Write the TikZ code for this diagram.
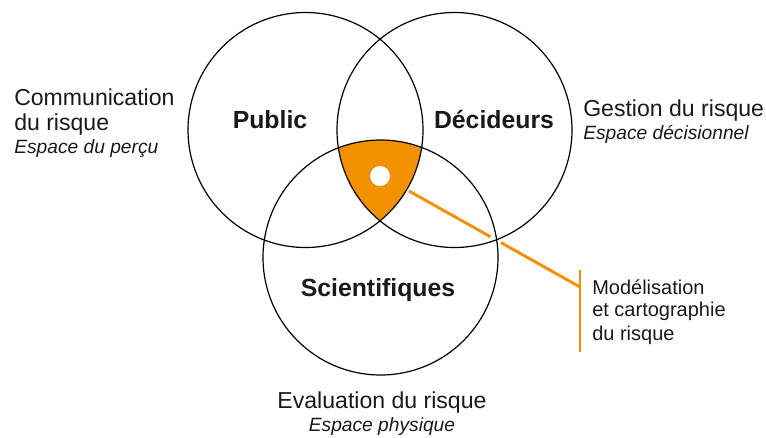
\documentclass[tikz,border=0pt]{standalone}
\usepackage{fontspec}
\setmainfont{Liberation Sans}
\definecolor{accent}{RGB}{242,145,0}
\begin{document}
\begin{tikzpicture}[x=0.75pt,y=-0.75pt,
  ring/.style={draw=black,line width=0.9pt},
  txt/.style={inner sep=0pt,text=black!90},
  big/.style={txt,font=\bfseries\fontsize{18.6}{22}\selectfont,anchor=base},
  lab/.style={txt,font=\fontsize{17.3}{20}\selectfont},
  sub/.style={txt,font=\itshape\fontsize{14.4}{17}\selectfont},
  note/.style={txt,font=\fontsize{15}{18}\selectfont,anchor=base west},
  lead/.style={draw=accent,line width=2.2pt}]
\useasboundingbox (0,0) rectangle (766,437);
\coordinate (cP) at (305.5,130);
\coordinate (cD) at (454.5,130);
\coordinate (cS) at (380.5,257.5);
\begin{scope}
  \clip (cP) circle[radius=88.125pt];
  \clip (cD) circle[radius=88.125pt];
  \fill[accent] (cS) circle[radius=88.125pt];
\end{scope}
\draw[ring] (cP) circle[radius=88.125pt];
\draw[ring] (cD) circle[radius=88.125pt];
\draw[ring] (cS) circle[radius=88.125pt];
\node[circle,fill=white,minimum size=15pt,inner sep=0pt] (dot) at (380,176) {};
% leader
\coordinate (lstart) at (409,191);
\coordinate (gapA) at (490.5,236.8);
\coordinate (gapB) at (501,242.6);
\coordinate (lend) at (580,287);
\coordinate (barTop) at (580,270);
\coordinate (barBot) at (580,352);
\draw[lead] (lstart) -- (gapA);
\draw[lead] (gapB) -- (lend);
\draw[lead] (barTop) -- (barBot);
% circle labels
\node[big] (public) at (270,128.3) {Public};
\node[big] (decideurs) at (494,128.3) {Décideurs};
\node[big] (sci) at (378,296.7) {Scientifiques};
% side labels
\node[lab,anchor=base west] (comm1) at (14,105) {Communication};
\node[lab,anchor=base west] (comm2) at (14,130) {du risque};
\node[sub,anchor=base west] (comm3) at (14,153.3) {Espace du perçu};
\node[lab,anchor=base west] (gest1) at (583,116) {Gestion du risque};
\node[sub,anchor=base west] (gest2) at (583,139.3) {Espace décisionnel};
\node[lab,anchor=base] (eval1) at (382,408.3) {Evaluation du risque};
\node[sub,anchor=base] (eval2) at (382,431.7) {Espace physique};
\node[note] (mod1) at (592,294) {Modélisation};
\node[note] (mod2) at (592,316.7) {et cartographie};
\node[note] (mod3) at (592,340.7) {du risque};
\end{tikzpicture}
\end{document}
